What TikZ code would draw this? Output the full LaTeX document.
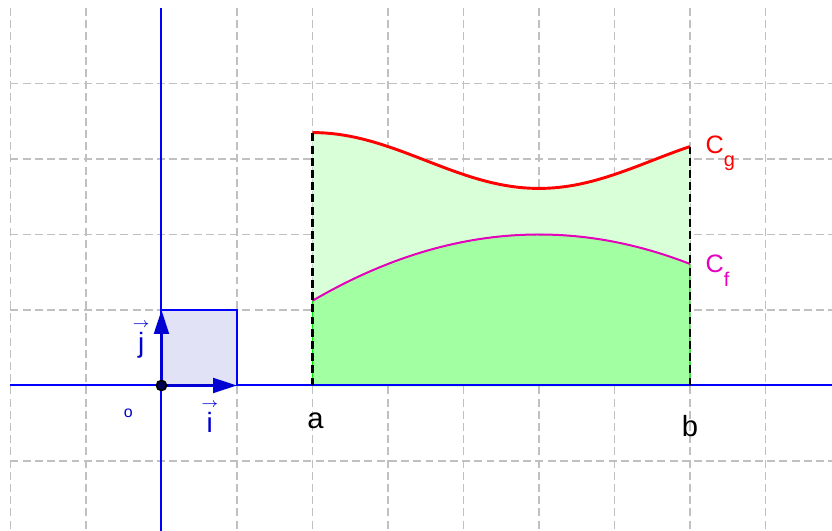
\documentclass[tikz,border=0pt]{standalone}
\usepackage{fontspec}
\setmainfont{Liberation Sans}
\usetikzlibrary{arrows.meta}
\definecolor{axisblue}{RGB}{0,0,255}
\definecolor{vecblue}{RGB}{0,0,210}
\definecolor{squarefill}{RGB}{225,226,245}
\definecolor{gridgray}{RGB}{192,192,192}
\definecolor{lightgreen}{RGB}{217,255,217}
\definecolor{darkgreen}{RGB}{162,255,162}
\definecolor{edgegreen}{RGB}{0,230,0}
\definecolor{curvered}{RGB}{255,0,0}
\definecolor{curvepink}{RGB}{230,0,190}
\newcommand{\lowsub}[1]{\raisebox{-5pt}{\fontsize{7.5}{8}\selectfont #1}}
\newcommand{\vecarrow}{{\fontsize{4.5}{4.5}\selectfont$\rightarrow$}\\[-3pt]}
\begin{document}
\begin{tikzpicture}[
                declare function={
                    cg(\x)=2.98-0.37*cos(60*(\x-5));
                    cf(\x)=2-0.0975*(\x-5)^2;
                },
                gridline/.style={
                    draw=gridgray,
                    dash pattern=on 3pt off 1.6pt,
                    line width=0.4pt
                },
                axis/.style={
                    draw=axisblue,
                    line width=0.75pt
                },
                vector/.style={
                    -{Triangle[length=9pt,width=5.5pt]},
                    draw=vecblue,
                    line width=1.2pt
                },
                bound/.style={
                    draw=black,
                    dash pattern=on 3pt off 1.6pt,
                    line width=1.1pt
                },
                lbl/.style={
                    inner sep=0pt,
                    font=\fontsize{11}{13}\selectfont
                },
                curvelbl/.style={
                    inner sep=0pt,
                    anchor=base west,
                    font=\fontsize{9.5}{11}\selectfont
                },
                veclbl/.style={
                    inner sep=0pt,
                    align=center,
                    text=vecblue,
                    font=\fontsize{10.5}{12.6}\selectfont
                },
                origin/.style={
                    circle,
                    draw=black,
                    fill=vecblue!40!black,
                    line width=0.6pt,
                    minimum size=3.8pt,
                    inner sep=0pt
                }
            ]

                \useasboundingbox (-2.139,-1.927) rectangle (8.881,5.106);

                % grid
                \foreach \gx in {-2,...,8}
                    \draw[gridline] (\gx,5) -- (\gx,-1.927);
                \foreach \gy in {-1,...,4}
                    \draw[gridline] (-2,\gy) -- (8.881,\gy);

                % areas between the curves and under Cf
                \fill[lightgreen] plot[domain=2:7,samples=60] (\x,{cg(\x)})
                    -- plot[domain=7:2,samples=60] (\x,{cf(\x)}) -- cycle;
                \filldraw[fill=darkgreen,draw=edgegreen,line width=0.4pt] (2,0)
                    -- plot[domain=2:7,samples=60] (\x,{cf(\x)}) -- (7,0) -- cycle;

                % axes
                \draw[axis] (-2,0) -- (8.881,0);
                \draw[axis] (0,5) -- (0,-1.927);

                % curves
                \draw[curvered,line width=1.1pt] plot[domain=2:7,samples=60] (\x,{cg(\x)});
                \draw[curvepink,line width=0.75pt] plot[domain=2:7,samples=60] (\x,{cf(\x)});

                \coordinate (a0) at (2,0);
                \coordinate (a1) at (2,{cg(2)});
                \coordinate (b0) at (7,0);
                \coordinate (b1) at (7,{cg(7)});
                \draw[bound] (a0) -- (a1);
                \draw[bound] (b0) -- (b1);

                % unit square and base vectors
                \filldraw[fill=squarefill,draw=axisblue,line width=0.5pt] (0,0) rectangle (1,1);
                \coordinate (I) at (1,0);
                \coordinate (J) at (0,1);
                \coordinate (O) at (0,0);
                \draw[vector] (O) -- (I);
                \draw[vector] (O) -- (J);
                \node[origin] (Odot) at (O) {};

                % labels
                \node[veclbl,font=\fontsize{6}{7}\selectfont] (olbl) at (-0.44,-0.37) {o};
                \node[veclbl] (ilbl) at (0.64,-0.42) {\vecarrow i};
                \node[veclbl] (jlbl) at (-0.27,0.6) {\vecarrow j};
                \node[lbl,anchor=base] (albl) at (2.04,-0.576) {a};
                \node[lbl,anchor=base] (blbl) at (7.0,-0.67) {b};
                \node[curvelbl,text=curvered] (cglbl) at (7.2,3.075) {C\lowsub{g}};
                \node[curvelbl,text=curvepink] (cflbl) at (7.2,1.49) {C\lowsub{f}};
        \end{tikzpicture}
\end{document}
